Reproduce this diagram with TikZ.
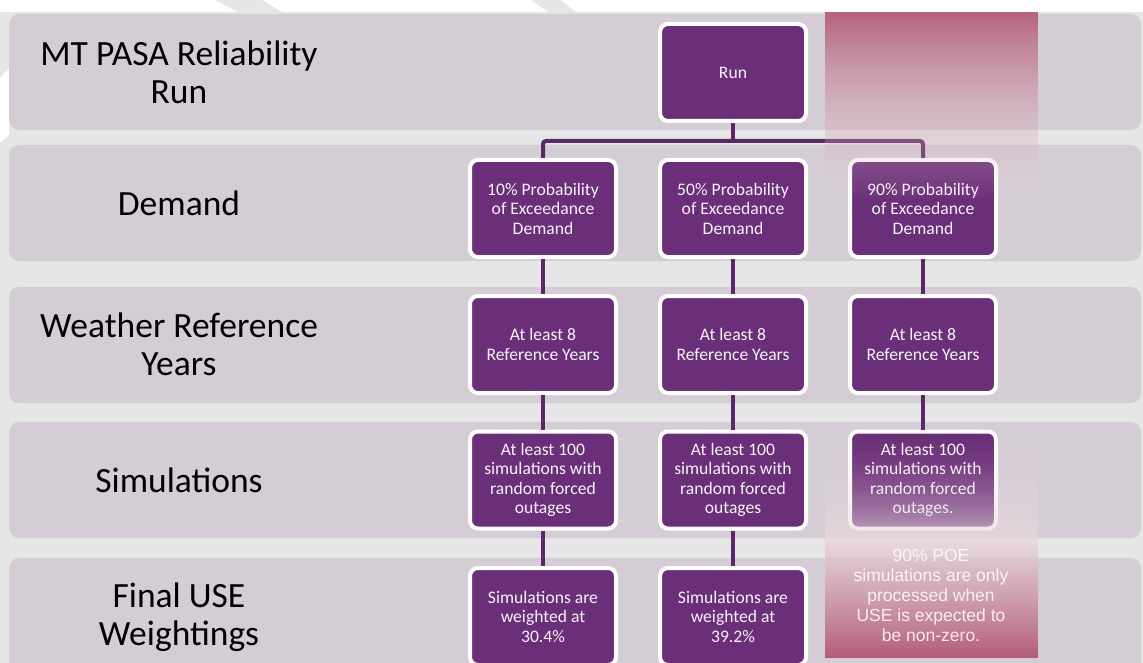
\documentclass[tikz,border=0pt]{standalone}
\usepackage{fontspec}
\setmainfont{Carlito}
\newfontfamily\poefont{Liberation Sans}

\definecolor{bggray}{HTML}{E6E6E6}
\definecolor{bandgray}{HTML}{D5CDD5}
\definecolor{boxpurple}{HTML}{6B2E78}
\definecolor{linkpurple}{HTML}{5C2766}
\definecolor{ovred}{HTML}{B0506E}
\definecolor{ovpale}{HTML}{E8D7DC}

\begin{document}
\begin{tikzpicture}[x=1pt,y=-1pt,
  band/.style={fill=bandgray, rounded corners=10pt},
  rowlabel/.style={font=\fontsize{35.5}{38}\selectfont, align=center, text=black},
  stepbox/.style={draw=white, line width=4pt, fill=boxpurple, rounded corners=8pt,
    minimum width=146pt, minimum height=97pt, inner sep=0pt, align=center,
    text=white!94!boxpurple, font=\fontsize{17.6}{19.5}\selectfont},
  link/.style={draw=linkpurple, line width=4pt},
  poetext/.style={align=center, text=white, text opacity=0.85,
    font=\poefont\fontsize{17.5}{20}\selectfont}]

\useasboundingbox (0,0) rectangle (1143,663);

% 1. Page background and the faint watermark pieces
\fill[white] (0,0) rectangle (1143,12);
\fill[bggray] (0,12) rectangle (1143,663);
\fill[bggray] (215,0) -- (262,0) -- (282,12) -- (238,12) -- cycle;
\fill[bggray] (531,0) -- (560,0) -- (576,12) -- (548,12) -- cycle;
\fill[white] (0,78) -- (9,68) -- (9,135) -- (0,143) -- cycle;

% 2. Row bands
\fill[band] (9,14) rectangle (1141,130);
\fill[band] (9,145) rectangle (1141,261);
\fill[band] (9,287) rectangle (1141,403);
\fill[band] (9,422) rectangle (1141,538);
\fill[band] (9,558) rectangle (1141,690);

% 3. Row labels
\node[rowlabel] (lrun) at (179,72) {MT PASA Reliability\\Run};
\node[rowlabel] (ldem) at (179,203) {Demand};
\node[rowlabel] (lwea) at (179,344) {Weather Reference\\Years};
\node[rowlabel] (lsim) at (179,480) {Simulations};
\node[rowlabel] (lfin) at (179,617) {Final USE\\Weightings};

% 4. Boxes
\node[stepbox] (run) at (733,72.5) {Run};

\node[stepbox] (d10) at (543,208.5) {10\% Probability\\of Exceedance\\Demand};
\node[stepbox] (d50) at (733,208.5) {50\% Probability\\of Exceedance\\Demand};
\node[stepbox] (d90) at (923,208.5) {90\% Probability\\of Exceedance\\Demand};

\node[stepbox] (w10) at (543,344.5) {At least 8\\Reference Years};
\node[stepbox] (w50) at (733,344.5) {At least 8\\Reference Years};
\node[stepbox] (w90) at (923,344.5) {At least 8\\Reference Years};

\node[stepbox] (s10) at (543,480) {At least 100\\simulations with\\random forced\\outages};
\node[stepbox] (s50) at (733,480) {At least 100\\simulations with\\random forced\\outages};
\node[stepbox] (s90) at (923,480) {At least 100\\simulations with\\random forced\\outages.};

\node[stepbox] (f10) at (543,616.5) {Simulations are\\weighted at\\30.4\%};
\node[stepbox] (f50) at (733,616.5) {Simulations are\\weighted at\\39.2\%};

% 5. Connectors
\coordinate (fork) at (733,141);
\draw[link] (run.south) -- (fork);
\draw[link, rounded corners=3pt] (d10.north) |- (fork) -| (d90.north);
\foreach \c in {10,50,90} {
  \draw[link] (d\c) -- (w\c);
  \draw[link] (w\c) -- (s\c);
}
\draw[link] (s10) -- (f10);
\draw[link] (s50) -- (f50);

% 6. Highlight over the 90% column (strips fake the gradient)
\foreach \yy in {12,14,...,198} {
  \pgfmathsetmacro\ovt{(\yy-12)/188}
  \pgfmathsetmacro\ovm{100*(1-\ovt)}
  \pgfmathsetmacro\ova{0.85*(1-\ovt)^0.9}
  \fill[ovred!\ovm!ovpale, fill opacity=\ova] (825,\yy) rectangle (1038,\yy+2);
}
\foreach \yy in {420,422,...,538} {
  \pgfmathsetmacro\ovt{(\yy-420)/120}
  \pgfmathsetmacro\ova{0.75*\ovt*\ovt}
  \fill[ovpale, fill opacity=\ova] (825,\yy) rectangle (1038,\yy+2);
}
\foreach \yy in {540,542,...,656} {
  \pgfmathsetmacro\ovt{(\yy-540)/117}
  \pgfmathsetmacro\ovm{100*\ovt}
  \pgfmathsetmacro\ova{0.75+0.15*\ovt}
  \fill[ovred!\ovm!ovpale, fill opacity=\ova] (825,\yy) rectangle (1038,\yy+2);
}

% 7. Note on the 90% POE runs
\node[poetext] (poenote) at (931,595) {90\% POE\\simulations are only\\processed when\\USE is expected to\\be non-zero.};

\end{tikzpicture}
\end{document}
